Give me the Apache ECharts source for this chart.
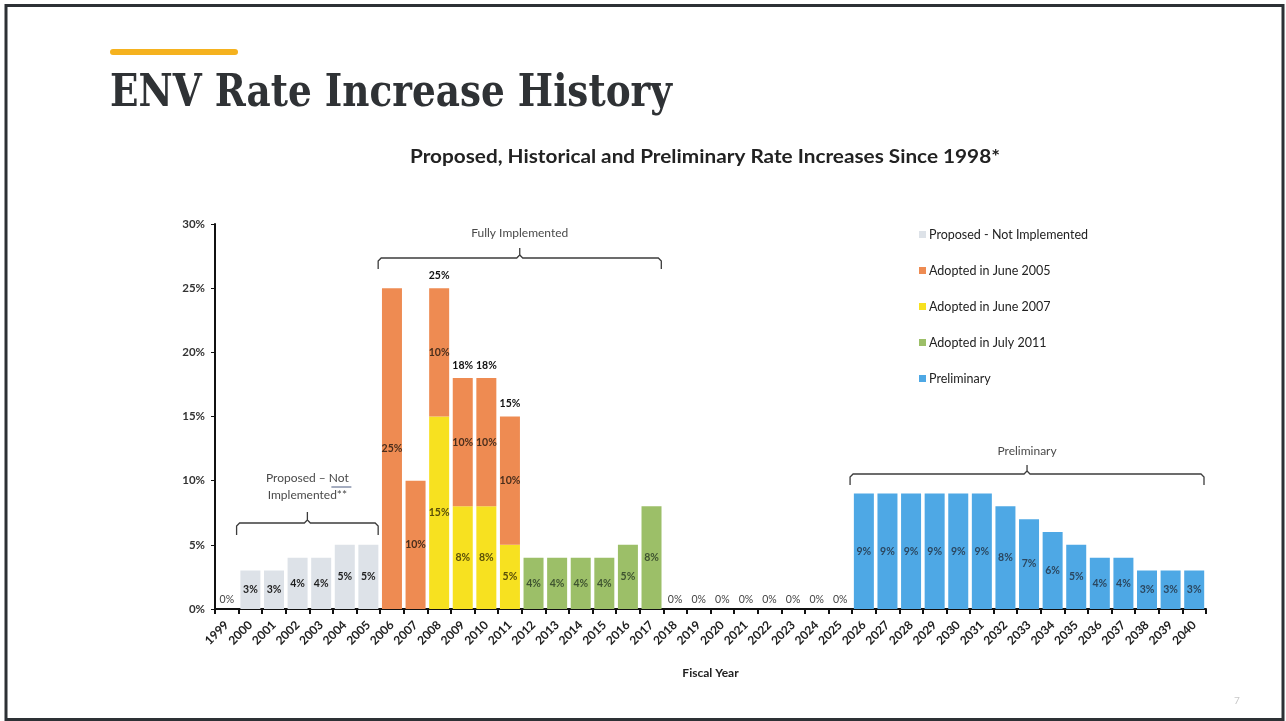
<!DOCTYPE html>
<html>
<head>
<meta charset="utf-8">
<script src="https://cdn.jsdelivr.net/npm/echarts@6/dist/echarts.min.js"></script>
<style>
html, body { margin: 0; padding: 0; background: #fff; }
#chart { width: 1286px; height: 721px; }
</style>
</head>
<body>
<div id="chart"></div>
<script>
const _ = null;

// fiscal years on the x axis
const years = ['1999', '2000', '2001', '2002', '2003', '2004', '2005', '2006', '2007', '2008',
  '2009', '2010', '2011', '2012', '2013', '2014', '2015', '2016', '2017', '2018',
  '2019', '2020', '2021', '2022', '2023', '2024', '2025', '2026', '2027', '2028',
  '2029', '2030', '2031', '2032', '2033', '2034', '2035', '2036', '2037', '2038',
  '2039', '2040'];

// rate increase in %, one slot per year
const proposed = [_, 3, 3, 4, 4, 5, 5, _, _, _, _, _, _, _, _, _, _, _, _, _, _, _, _, _, _, _, _, _, _, _, _, _, _, _, _, _, _, _, _, _, _, _];
const june2005 = [_, _, _, _, _, _, _, 25, 10, 10, 10, 10, 10, _, _, _, _, _, _, _, _, _, _, _, _, _, _, _, _, _, _, _, _, _, _, _, _, _, _, _, _, _];
const june2007 = [_, _, _, _, _, _, _, _, _, 15, 8, 8, 5, _, _, _, _, _, _, _, _, _, _, _, _, _, _, _, _, _, _, _, _, _, _, _, _, _, _, _, _, _];
const july2011 = [_, _, _, _, _, _, _, _, _, _, _, _, _, 4, 4, 4, 4, 5, 8, _, _, _, _, _, _, _, _, _, _, _, _, _, _, _, _, _, _, _, _, _, _, _];
const zeroYears = [0, _, _, _, _, _, _, _, _, _, _, _, _, _, _, _, _, _, _, 0, 0, 0, 0, 0, 0, 0, 0, _, _, _, _, _, _, _, _, _, _, _, _, _, _, _];
const preliminary = [_, _, _, _, _, _, _, _, _, _, _, _, _, _, _, _, _, _, _, _, _, _, _, _, _, _, _, 9, 9, 9, 9, 9, 9, 8, 7, 6, 5, 4, 4, 3, 3, 3];
const totals = [_, _, _, _, _, _, _, _, _, 25, 18, 18, 15, _, _, _, _, _, _, _, _, _, _, _, _, _, _, _, _, _, _, _, _, _, _, _, _, _, _, _, _, _];

const yTicks = [0, 5, 10, 15, 20, 25, 30];

const LABEL_FONT = 'Lato';

function barSeries(name, data, color, labelColor) {
  return {
    name: name,
    type: 'bar',
    stack: 'a',
    data: data,
    barWidth: 20,
    itemStyle: { color: color },
    label: {
      show: true,
      position: 'inside',
      formatter: '{c}%',
      fontFamily: LABEL_FONT,
      fontSize: 10.5,
      fontWeight: 'bold',
      color: labelColor
    }
  };
}

var chart = echarts.init(document.getElementById('chart'));

var option = {
  animation: false,
  backgroundColor: '#fff',
  grid: { left: 215, right: 80, top: 224, bottom: 112, containLabel: false },
  legend: {
    orient: 'vertical',
    left: 914,
    top: 223,
    itemGap: 23,
    itemWidth: 7,
    itemHeight: 7,
    icon: 'rect',
    data: ['Proposed - Not Implemented', 'Adopted in June 2005', 'Adopted in June 2007', 'Adopted in July 2011', 'Preliminary'],
    textStyle: { fontFamily: LABEL_FONT, fontSize: 12.5, color: '#222', padding: [0, 0, 0, -2] }
  },
  xAxis: {
    type: 'category',
    data: years,
    name: 'Fiscal Year',
    nameLocation: 'middle',
    nameGap: 58,
    nameTextStyle: { fontFamily: LABEL_FONT, fontSize: 12, fontWeight: 'bold', color: '#222' },
    axisLine: { lineStyle: { color: '#111', width: 2 } },
    axisTick: { show: true, length: 5, lineStyle: { color: '#111', width: 2 } },
    axisLabel: {
      rotate: 45,
      interval: 0,
      margin: 14,
      fontFamily: LABEL_FONT,
      fontSize: 12,
      fontWeight: 'bold',
      color: '#222'
    }
  },
  yAxis: {
    type: 'value',
    min: 0,
    max: yTicks[yTicks.length - 1],
    interval: yTicks[1] - yTicks[0],
    splitLine: { show: false },
    axisLine: { show: true, lineStyle: { color: '#111', width: 2 } },
    axisTick: { show: true, length: 4, lineStyle: { color: '#111' } },
    axisLabel: {
      formatter: '{value}%',
      margin: 10,
      fontFamily: LABEL_FONT,
      fontSize: 11.5,
      fontWeight: 'bold',
      color: '#333'
    }
  },
  series: [
    barSeries('Proposed - Not Implemented', proposed, '#dde2e8', '#1e1e1e'),
    barSeries('Adopted in June 2007', june2007, '#f7e120', '#5a4f08'),
    barSeries('Adopted in June 2005', june2005, '#ee8b52', '#4a2e1c'),
    barSeries('Adopted in July 2011', july2011, '#9cbf68', '#3f5430'),
    barSeries('Preliminary', preliminary, '#4ea8e5', '#2b4760'),
    {
      name: 'zero',
      type: 'bar',
      stack: 'a',
      data: zeroYears,
      barWidth: 20,
      itemStyle: { color: 'transparent' },
      label: {
        show: true, position: 'top', distance: 4, formatter: '0%',
        fontFamily: LABEL_FONT, fontSize: 10.5, color: '#444'
      }
    },
    {
      name: 'total',
      type: 'bar',
      stack: 'a',
      data: totals.map(function (v) { return v === null ? null : 0; }),
      barWidth: 20,
      itemStyle: { color: 'transparent' },
      label: {
        show: true, position: 'top', distance: 7,
        formatter: function (p) { return totals[p.dataIndex] + '%'; },
        fontFamily: LABEL_FONT, fontSize: 10.5, fontWeight: 'bold', color: '#111'
      }
    }
  ]
};

chart.setOption(option);

// ---- annotations (brackets, titles, frame) ----
function fitScale(text, font, width) {
  var ctx = document.createElement('canvas').getContext('2d');
  ctx.font = font;
  return width / ctx.measureText(text).width;
}

function xAt(i) {
  return chart.convertToPixel({ xAxisIndex: 0 }, years[i]);
}
var step = xAt(1) - xAt(0);

function bracket(i1, i2, y, drop, rise) {
  var x1 = xAt(i1) - step / 2 - 2;
  var x2 = xAt(i2) + step / 2 - 2;
  var cx = (x1 + x2) / 2;
  return [
    { type: 'polyline', silent: true,
      shape: { points: [[x1, y + drop], [x1, y + 3], [x1 + 3, y], [cx - 3, y], [cx, y - 3], [cx, y - rise]] },
      style: { stroke: '#3c3c3c', lineWidth: 1.3, fill: null } },
    { type: 'polyline', silent: true,
      shape: { points: [[cx, y - 3], [cx + 3, y], [x2 - 3, y], [x2, y + 3], [x2, y + drop]] },
      style: { stroke: '#3c3c3c', lineWidth: 1.3, fill: null } }
  ];
}

function note(x, y, text) {
  return { type: 'text', silent: true, x: x, y: y,
    style: { text: text, font: '12px Lato', fill: '#4a4a4a', textAlign: 'center', align: 'center',
      textVerticalAlign: 'middle', verticalAlign: 'middle' } };
}

var headFont = 'bold 44px "DejaVu Serif"';
var headText = 'ENV Rate Increase History';
var subFont = 'bold 18px Lato';
var subText = 'Proposed, Historical and Preliminary Rate Increases Since 1998*';

var pCx = (xAt(1) + xAt(6)) / 2 - 2;
var fCx = (xAt(7) + xAt(18)) / 2 - 2;
var rCx = (xAt(27) + xAt(41)) / 2 - 2;

var graphics = [
  { type: 'rect', silent: true, shape: { x: 6, y: 5.5, width: 1277, height: 714 },
    style: { fill: null, stroke: '#2d3135', lineWidth: 3 } },
  { type: 'rect', silent: true, shape: { x: 110, y: 49, width: 128, height: 6, r: 3 },
    style: { fill: '#f5b21f' } },
  { type: 'text', silent: true, x: 110, y: 95, scaleX: fitScale(headText, headFont, 562),
    style: { text: headText, font: headFont, fill: '#2f3235', textAlign: 'left', align: 'left',
      textVerticalAlign: 'middle', verticalAlign: 'middle' } },
  { type: 'text', silent: true, x: 410, y: 157, scaleX: fitScale(subText, subFont, 590),
    style: { text: subText, font: subFont, fill: '#222', textAlign: 'left', align: 'left',
      textVerticalAlign: 'middle', verticalAlign: 'middle' } },
  note(pCx, 478, 'Proposed \u2013 Not'),
  note(pCx, 495, 'Implemented**'),
  { type: 'line', silent: true, shape: { x1: pCx + 24, y1: 487, x2: pCx + 44, y2: 487 },
    style: { stroke: '#4a5a80', lineWidth: 1 } },
  note(fCx, 233, 'Fully Implemented'),
  note(rCx, 451, 'Preliminary'),
  { type: 'text', silent: true, x: 1237, y: 701,
    style: { text: '7', font: '10px Lato', fill: '#c8c8c8', textAlign: 'center', align: 'center',
      textVerticalAlign: 'middle', verticalAlign: 'middle' } }
];
graphics = graphics
  .concat(bracket(1, 6, 523, 12, 11))
  .concat(bracket(7, 18, 258, 11, 10))
  .concat(bracket(27, 41, 474, 11, 9));

chart.setOption({ graphic: graphics });
</script>
</body>
</html>
